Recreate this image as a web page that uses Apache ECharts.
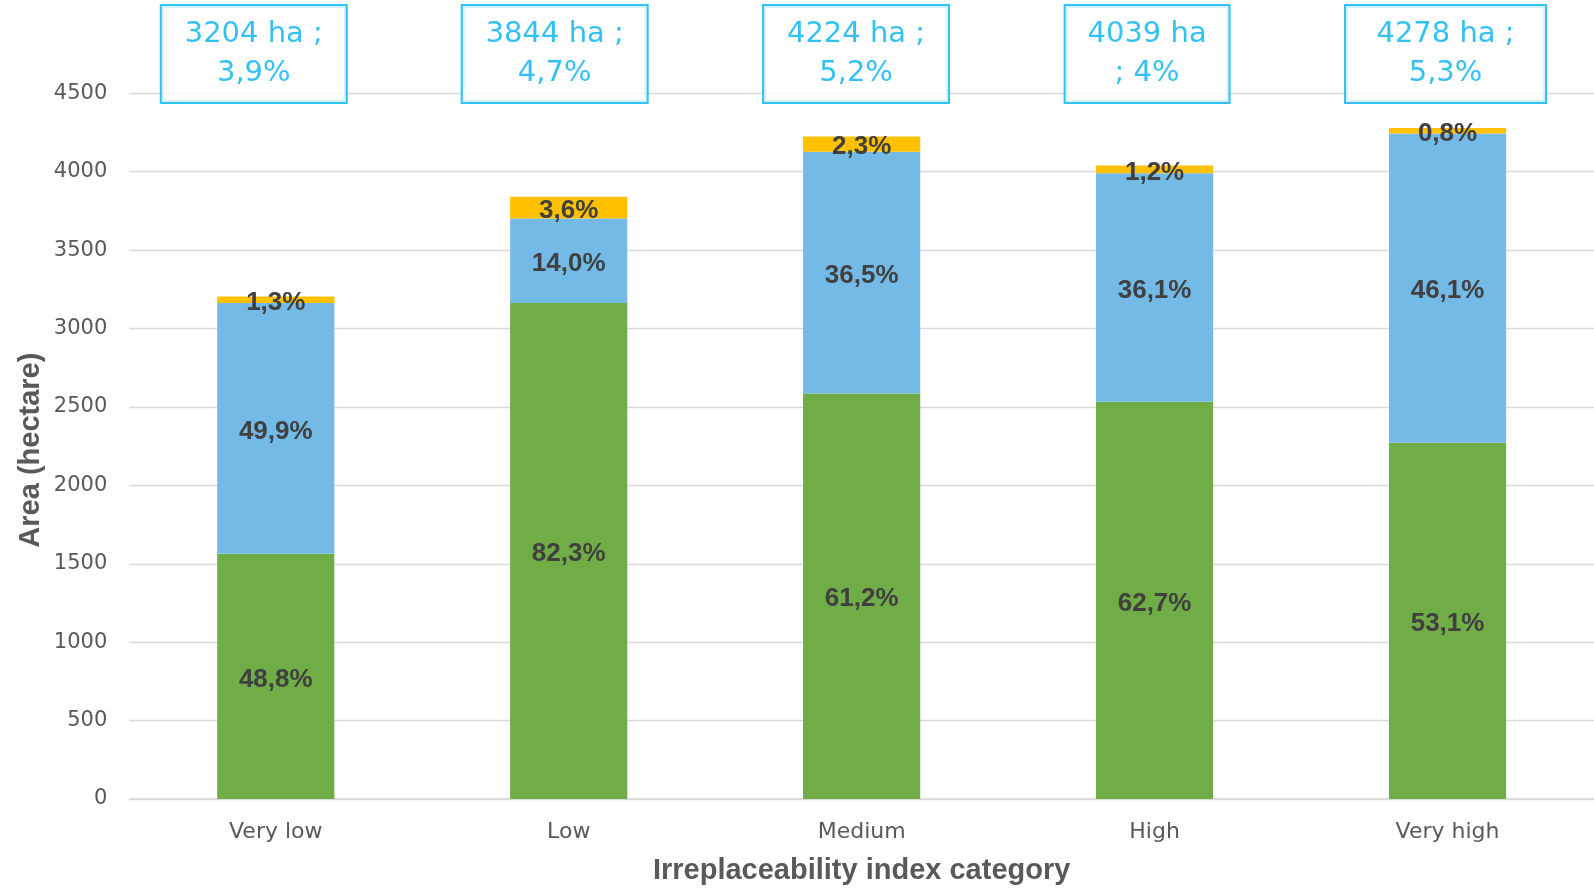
<!DOCTYPE html>
<html>
<head>
<meta charset="utf-8">
<script src="https://cdn.jsdelivr.net/npm/echarts@6/dist/echarts.min.js"></script>
<style>
html,body{margin:0;padding:0;background:#fff;}
#chart{width:1594px;height:890px;}
</style>
</head>
<body>
<div id="chart"></div>
<script>
// ---- data ----
const categories = ['Very low', 'Low', 'Medium', 'High', 'Very high'];
const yTicks = [0, 500, 1000, 1500, 2000, 2500, 3000, 3500, 4000, 4500];

// hectares per segment
const greenValues  = [1563.6, 3163.6, 2585.1, 2532.5, 2271.6];
const blueValues   = [1598.8, 538.2, 1541.8, 1458.1, 1972.2];
const yellowValues = [41.7, 138.4, 97.2, 48.5, 34.2];

// segment shares (labels)
const greenPct  = ['48,8%', '82,3%', '61,2%', '62,7%', '53,1%'];
const bluePct   = ['49,9%', '14,0%', '36,5%', '36,1%', '46,1%'];
const yellowPct = ['1,3%', '3,6%', '2,3%', '1,2%', '0,8%'];

// totals boxes
const totalHa    = ['3204', '3844', '4224', '4039', '4278'];
const totalShare = ['3,9%', '4,7%', '5,2%', '4%', '5,3%'];
const totalText  = ['3204 ha ;\n3,9%', '3844 ha ;\n4,7%', '4224 ha ;\n5,2%', '4039 ha\n; 4%', '4278 ha ;\n5,3%'];

// ---- styling (positions / sizes) ----
const boxDx = [-22, -14, -5.6, -7.5, -2];
const boxW  = [164, 164, 164, 143, 179];

const yMin = yTicks[0], yMax = yTicks[yTicks.length - 1];

const chart = echarts.init(document.getElementById('chart'), null, {renderer: 'canvas'});

const barLabel = (pcts) => ({
  show: true,
  position: 'inside',
  formatter: (p) => pcts[p.dataIndex],
  color: '#404040',
  fontFamily: 'Liberation Sans',
  fontWeight: 'bold',
  fontSize: 26,
  offset: [0, 3]
});

const option = {
  animation: false,
  backgroundColor: '#ffffff',
  grid: {left: 129.3, width: 1480.5, top: 93.3, bottom: 88.7, containLabel: false},
  xAxis: {
    type: 'category',
    data: categories,
    name: 'Irreplaceability index category',
    nameLocation: 'middle',
    nameGap: 57,
    nameTextStyle: {color: '#595959', fontFamily: 'Liberation Sans', fontWeight: 'bold', fontSize: 29},
    axisLine: {show: true, lineStyle: {color: '#d9d9d9', width: 1.5}},
    axisTick: {show: false},
    axisLabel: {color: '#595959', fontFamily: 'DejaVu Sans', fontSize: 22, margin: 22}
  },
  yAxis: {
    type: 'value',
    min: yMin,
    max: yMax,
    interval: 500,
    name: 'Area (hectare)',
    nameLocation: 'middle',
    nameGap: 84,
    nameMoveOverlap: false,
    nameRotate: 90,
    nameTextStyle: {color: '#595959', fontFamily: 'Liberation Sans', fontWeight: 'bold', fontSize: 29, padding: [0, 8, 0, 0]},
    axisLine: {show: false},
    axisTick: {show: false},
    splitLine: {show: true, lineStyle: {color: '#d9d9d9', width: 1.3}},
    axisLabel: {color: '#595959', fontFamily: 'DejaVu Sans', fontSize: 21, margin: 22, formatter: (v) => String(v)}
  },
  series: [
    {
      name: 'green', type: 'bar', stack: 'a', barWidth: '40%',
      data: greenValues,
      itemStyle: {color: '#70AD47'},
      label: barLabel(greenPct)
    },
    {
      name: 'blue', type: 'bar', stack: 'a', barWidth: '40%',
      data: blueValues,
      itemStyle: {color: '#73BAE6'},
      label: barLabel(bluePct)
    },
    {
      name: 'yellow', type: 'bar', stack: 'a', barWidth: '40%',
      data: yellowValues,
      itemStyle: {color: '#FFC000'},
      label: barLabel(yellowPct)
    },
    {
      name: 'totals', type: 'scatter', clip: false, z: 10,
      symbolSize: 0,
      silent: true,
      data: categories.map((c, i) => ({
        value: yMax,
        label: {offset: [boxDx[i], -39.3], width: boxW[i]}
      })),
      label: {
        show: true,
        position: 'inside',
        formatter: (p) => totalText[p.dataIndex],
        color: '#00B0F0',
        fontFamily: 'DejaVu Sans',
        fontSize: 29,
        lineHeight: 39,
        align: 'center',
        borderColor: '#00B0F0',
        borderWidth: 2,
        backgroundColor: '#ffffff',
        padding: [16, 10, 2, 10]
      }
    }
  ]
};

chart.setOption(option);
</script>
</body>
</html>
